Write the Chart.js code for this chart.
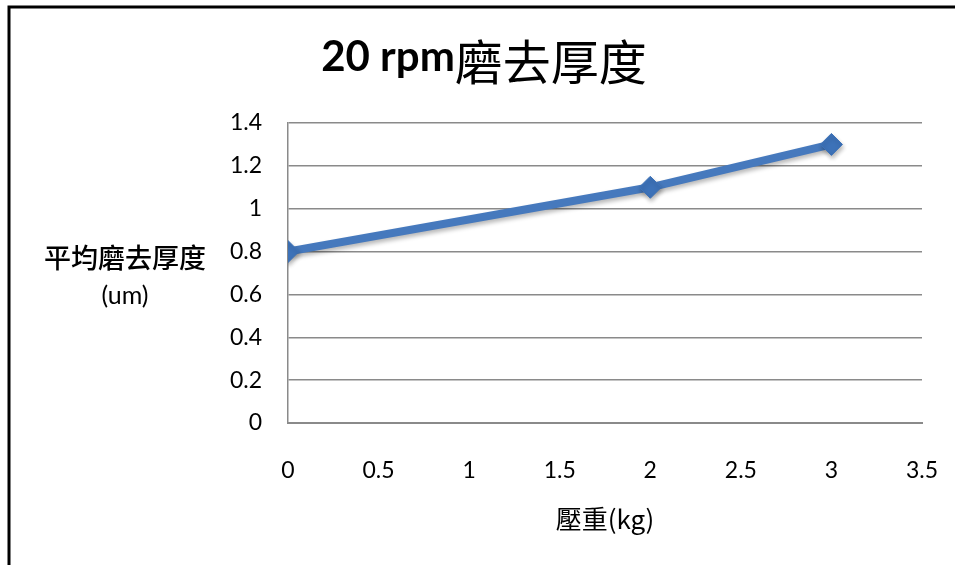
<!DOCTYPE html>
<html>
<head>
<meta charset="utf-8">
<script src="https://cdn.jsdelivr.net/npm/chart.js@4/dist/chart.umd.min.js"></script>
<style>
  html, body { margin: 0; padding: 0; background: #fff; }
  #wrap { width: 955px; height: 565px; position: relative; }
</style>
</head>
<body>
<div id="wrap"><canvas id="c" width="955" height="565"></canvas></div>
<script>
// Load (kg) and average removed thickness (um)
const loadKg = [0, 2, 3];
const thicknessUm = [0.8, 1.1, 1.3];
const xTicks = [0, 0.5, 1, 1.5, 2, 2.5, 3, 3.5];
const yTicks = [0, 0.2, 0.4, 0.6, 0.8, 1, 1.2, 1.4];

// Title: bold latin part followed by the regular-weight Chinese part
const titleLatin = '20 rpm';
const titleCJK = '磨去厚度';
const yLabelLines = ['平均磨去厚度', '(um)'];
const xLabelText = '壓重(kg)';

const latin = 'Lato, "Noto Sans CJK TC", sans-serif';
const cjk = '"Noto Sans CJK TC", sans-serif';

// Frame lines, title and the horizontal y-axis caption
const decor = {
  id: 'decor',
  beforeDraw(chart) {
    const ctx = chart.ctx;
    ctx.save();
    ctx.fillStyle = '#fff';
    ctx.fillRect(0, 0, chart.width, chart.height);
    ctx.restore();
  },
  afterDraw(chart) {
    const ctx = chart.ctx;
    ctx.save();
    ctx.strokeStyle = '#000';
    ctx.lineWidth = 3;
    ctx.beginPath();
    ctx.moveTo(9, chart.height);
    ctx.lineTo(9, 7);
    ctx.lineTo(chart.width, 7);
    ctx.stroke();

    ctx.fillStyle = '#000';

    // title
    ctx.textBaseline = 'alphabetic';
    ctx.textAlign = 'left';
    ctx.font = 'bold 42px ' + latin;
    const wLatin = ctx.measureText(titleLatin).width;
    ctx.font = '400 48px ' + cjk;
    const wCJK = ctx.measureText(titleCJK).width;
    const startX = 484 - (wLatin + wCJK) / 2;
    ctx.font = 'bold 42px ' + latin;
    ctx.fillText(titleLatin, startX, 71);
    ctx.font = '400 48px ' + cjk;
    ctx.fillText(titleCJK, startX + wLatin, 80);

    // y-axis caption
    ctx.textAlign = 'center';
    ctx.textBaseline = 'middle';
    const cx = 125;
    const midY = chart.scales.y.getPixelForValue(0.8);
    ctx.font = '500 27px ' + cjk;
    ctx.fillText(yLabelLines[0], cx, midY + 6);
    ctx.font = '25px ' + latin;
    ctx.fillText(yLabelLines[1], cx, midY + 44);
    ctx.restore();
  }
};

// Soft drop shadow under the series
const shadow = {
  id: 'shadow',
  beforeDatasetDraw(chart) {
    const ctx = chart.ctx;
    ctx.save();
    ctx.shadowColor = 'rgba(0,0,0,0.28)';
    ctx.shadowBlur = 4;
    ctx.shadowOffsetX = 1;
    ctx.shadowOffsetY = 3;
  },
  afterDatasetDraw(chart) {
    chart.ctx.restore();
  }
};

new Chart(document.getElementById('c'), {
  type: 'scatter',
  data: {
    datasets: [{
      data: loadKg.map((x, i) => ({ x: x, y: thicknessUm[i] })),
      showLine: true,
      borderColor: '#4679bd',
      backgroundColor: '#3d72b8',
      borderWidth: 8,
      pointStyle: 'rectRot',
      pointRadius: 11,
      pointHoverRadius: 11,
      pointBorderWidth: 1,
      pointBorderColor: '#3d72b8',
      tension: 0
    }]
  },
  options: {
    responsive: false,
    animation: false,
    events: [],
    layout: { padding: { left: 0, right: 33, top: 123, bottom: 0 } },
    plugins: {
      legend: { display: false },
      tooltip: { enabled: false },
      title: { display: false }
    },
    scales: {
      x: {
        type: 'linear',
        min: 0,
        max: 3.5,
        afterBuildTicks(scale) { scale.ticks = xTicks.map(v => ({ value: v })); },
        afterFit(scale) {
          scale.height = 142;
          scale.paddingLeft = 0;
          scale.paddingRight = 0;
        },
        grid: { display: false, drawTicks: false },
        border: { display: true, color: '#8a8a8a', width: 2 },
        ticks: {
          color: '#000',
          padding: 34,
          font: { family: latin, size: 23 },
          callback: v => String(v)
        },
        title: {
          display: true,
          text: xLabelText,
          color: '#000',
          font: { family: cjk, size: 26, lineHeight: 1.2 },
          padding: { top: 0, bottom: 30 }
        }
      },
      y: {
        type: 'linear',
        min: 0,
        max: 1.4,
        afterBuildTicks(scale) { scale.ticks = yTicks.map(v => ({ value: v })); },
        afterFit(scale) {
          scale.width = 288;
          scale.paddingTop = 0;
          scale.paddingBottom = 0;
        },
        grid: { color: '#8a8a8a', lineWidth: 1.5, drawTicks: false },
        border: { display: true, color: '#8a8a8a', width: 1.5 },
        ticks: {
          color: '#000',
          padding: 26,
          font: { family: latin, size: 23 },
          callback: v => String(v)
        }
      }
    }
  },
  plugins: [decor, shadow]
});
</script>
</body>
</html>
